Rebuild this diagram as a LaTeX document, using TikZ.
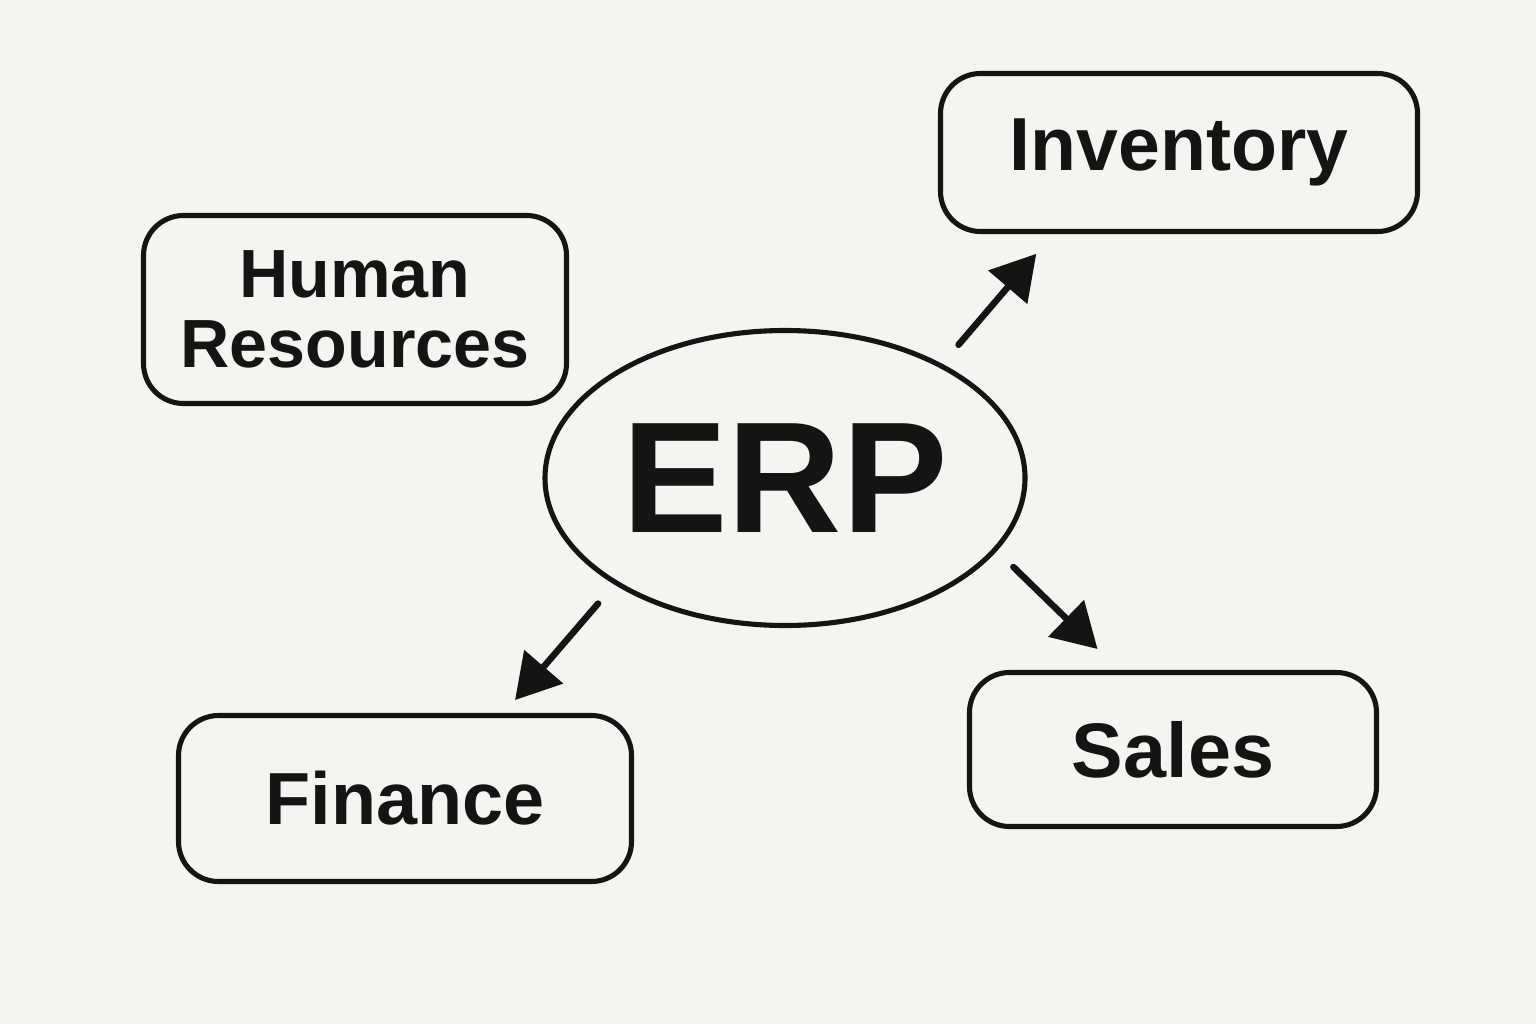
\documentclass[tikz,border=0pt]{standalone}
\usepackage{fontspec}
\setmainfont{Liberation Sans}
\usetikzlibrary{arrows.meta,calc,shapes.geometric}
\definecolor{paper}{RGB}{245,244,240}
\definecolor{ink}{RGB}{20,20,20}
\begin{document}
\begin{tikzpicture}[
    font=\bfseries,
    module/.style={rectangle, rounded corners=0.4cm, draw=ink, line width=1.45pt, text=ink, inner sep=0pt, align=center},
    core/.style={ellipse, draw=ink, line width=1.45pt, text=ink, inner sep=0pt, minimum width=4.8cm, minimum height=2.95cm},
    arrow/.style={draw=ink, line width=1.85pt, line cap=round, -{Triangle[length=0.44cm, width=0.5cm]}}
]
\fill[paper] (0, 0) rectangle (15.36, 10.24);

% --- Nodes ---
\node (erp) at (7.85, 5.46) [core, font=\bfseries\fontsize{45}{45}\selectfont] {ERP};
\node (hr) at (3.55, 7.145) [module, minimum width=4.23cm, minimum height=1.88cm, font=\bfseries\fontsize{19.4}{19.9}\selectfont] {Human\\ Resources};
\node (inv) at (11.79, 8.715) [module, minimum width=4.77cm, minimum height=1.58cm, font=\bfseries\fontsize{21.4}{22}\selectfont] {Inventory};
\node (fin) at (4.05, 2.255) [module, minimum width=4.53cm, minimum height=1.66cm, font=\bfseries\fontsize{21}{22}\selectfont] {Finance};
\node (sales) at (11.73, 2.745) [module, minimum width=4.07cm, minimum height=1.54cm, font=\bfseries\fontsize{22}{22}\selectfont] {Sales};

% --- Edges ---
\draw [arrow, shorten <=0.25cm, shorten >=0.26cm] (erp.36) -- ($(inv.south west)!0.239!(inv.south east)$);
\draw [arrow, shorten <=0.23cm, shorten >=0.30cm] (erp.-19) -- ($(sales.north west)!0.369!(sales.north east)$);
\draw [arrow, shorten <=0.25cm, shorten >=0.17cm] (erp.212) -- ($(fin.north west)!0.716!(fin.north east)$);

\end{tikzpicture}
\end{document}
